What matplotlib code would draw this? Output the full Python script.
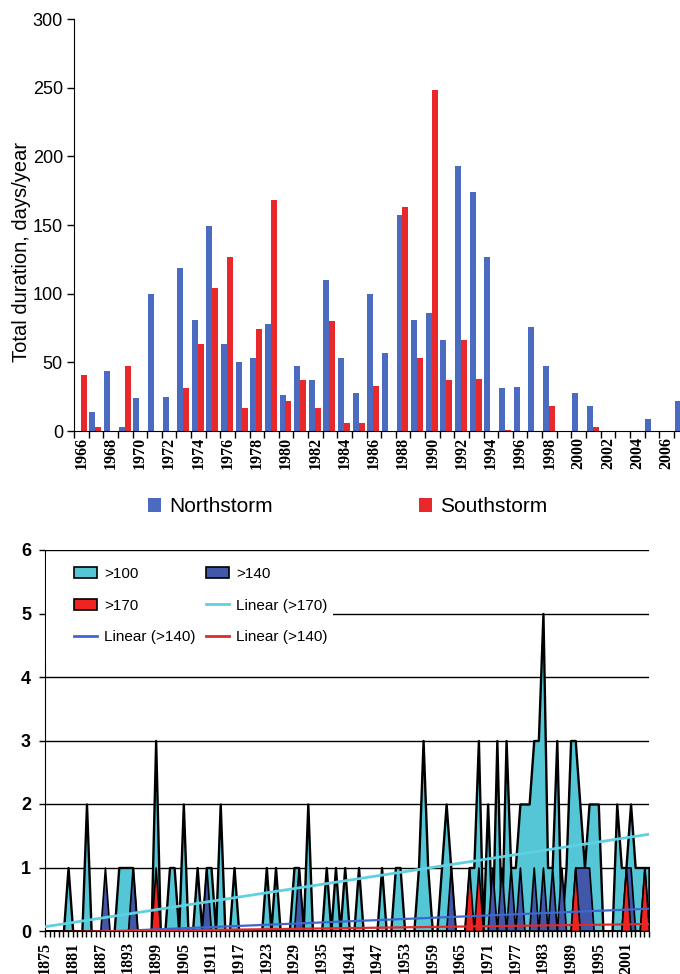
import numpy as np
import matplotlib
matplotlib.use("Agg")
import matplotlib.pyplot as plt
from matplotlib.patches import Patch, Rectangle
from matplotlib.lines import Line2D

# ---- top chart: storm duration per year ----
top_years = list(range(1966, 2008))
northstorm = [0, 14, 44, 3, 24, 100, 25, 119, 81, 149, 63, 50, 53, 78, 26, 47, 37, 110,
              53, 28, 100, 57, 157, 81, 86, 66, 193, 174, 127, 31, 32, 76, 47, 0, 28, 18,
              0, 0, 0, 9, 0, 22]
southstorm = [41, 3, 0, 47, 0, 0, 0, 31, 63, 104, 127, 17, 74, 168, 22, 37, 17, 80,
              6, 6, 33, 0, 163, 53, 248, 37, 66, 38, 0, 1, 0, 0, 18, 0, 0, 3,
              0, 0, 0, 0, 0, 0]

# ---- bottom chart: number of storms per year by class ----
bot_years = np.arange(1875, 2007)
gt100 = {1880: 1, 1884: 2, 1891: 1, 1892: 1, 1893: 1, 1894: 1, 1899: 3, 1902: 1, 1903: 1,
         1905: 2, 1908: 1, 1910: 1, 1911: 1, 1913: 2, 1916: 1, 1923: 1, 1925: 1, 1929: 1,
         1930: 1, 1932: 2, 1936: 1, 1938: 1, 1940: 1, 1943: 1, 1948: 1, 1951: 1, 1952: 1,
         1956: 1, 1957: 3, 1958: 1, 1961: 1, 1962: 2, 1963: 1, 1967: 1, 1968: 1, 1969: 3,
         1971: 2, 1973: 3, 1975: 3, 1976: 1, 1977: 1, 1978: 2, 1979: 2, 1980: 2, 1981: 3,
         1982: 3, 1983: 5, 1984: 1, 1985: 1, 1986: 3, 1988: 1, 1989: 3, 1990: 3, 1991: 2,
         1992: 1, 1993: 2, 1994: 2, 1995: 2, 1999: 2, 2000: 1, 2001: 1, 2002: 2, 2003: 1,
         2004: 1, 2005: 1, 2006: 1}
gt140 = {1888: 1, 1894: 1, 1910: 1, 1930: 1, 1963: 1, 1972: 1, 1974: 1, 1976: 1, 1978: 1,
         1981: 1, 1983: 1, 1985: 1, 1987: 1, 1990: 1, 1991: 1, 1992: 1, 1993: 1, 2001: 1,
         2002: 1, 2005: 1}
gt170 = {1899: 1, 1967: 1, 1969: 1, 1990: 1, 2001: 1, 2005: 1}
bot_ticks = list(range(1875, 2006, 6))

s100 = np.array([gt100.get(y, 0) for y in bot_years], dtype=float)
s140 = np.array([gt140.get(y, 0) for y in bot_years], dtype=float)
s170 = np.array([gt170.get(y, 0) for y in bot_years], dtype=float)

sans = "Liberation Sans"
serif = "Liberation Serif"

fig = plt.figure(figsize=(6.8, 9.74), dpi=100)

# top chart
ax1 = fig.add_axes([74 / 680, 1 - 431 / 974, 614.4 / 680, 412 / 974])
x = np.arange(len(top_years))
ax1.bar(x - 0.245, northstorm, width=0.41, color="#4a6bbf")
ax1.bar(x + 0.16, southstorm, width=0.41, color="#e8282a")
ax1.set_xlim(-0.5, len(top_years) - 0.5)
ax1.set_ylim(0, 300)
ax1.set_yticks(range(0, 301, 50))
ax1.set_xticks(np.arange(-0.5, len(top_years), 1))
ax1.set_xticklabels([])
ax1.set_xticks(x[::2], minor=True)
ax1.set_xticklabels([str(y) for y in top_years[::2]], minor=True, rotation=90,
                    fontfamily=serif, fontweight="bold", fontsize=11.5)
ax1.tick_params(axis="x", which="major", length=5, width=1, direction="out")
ax1.tick_params(axis="x", which="minor", length=0, pad=4)
ax1.tick_params(axis="y", length=5, width=1, pad=3)
for lab in ax1.get_yticklabels():
    lab.set_fontfamily(sans)
    lab.set_fontsize(13)
ax1.spines["top"].set_visible(False)
ax1.spines["right"].set_visible(False)
ax1.set_ylabel("Total duration, days/year", fontfamily=sans, fontsize=14.5)
ax1.yaxis.set_label_coords(-0.07, 0.435)

top_handles = [Patch(facecolor="#4a6bbf"), Patch(facecolor="#e8282a")]
fig.legend(top_handles, ["Northstorm", "Southstorm"], ncol=2, loc="center",
           bbox_to_anchor=(0.511, 1 - 507 / 974), frameon=False,
           prop={"family": sans, "size": 15}, handlelength=0.62, handleheight=0.62,
           handletextpad=0.4, columnspacing=7.0)

# bottom chart
ax2 = fig.add_axes([45 / 680, 1 - 931 / 974, 604 / 680, 381 / 974])
for lvl in range(1, 7):
    ax2.axhline(lvl, color="black", lw=1, zorder=1)

c100, c140, c170 = "#55c6d6", "#4357a8", "#f02222"
ax2.fill_between(bot_years, 0, s100, facecolor=c100, edgecolor="black", lw=1.7, zorder=2)
ax2.fill_between(bot_years, 0, s140, facecolor=c140, edgecolor="black", lw=1.2, zorder=3)
ax2.fill_between(bot_years, 0, s170, facecolor=c170, edgecolor="black", lw=1.2, zorder=4)

for s, col, lw in [(s100, "#5fd0e2", 2.0), (s140, "#3c68d0", 1.6), (s170, "#e02a2a", 1.6)]:
    k, b = np.polyfit(bot_years, s, 1)
    ax2.plot(bot_years, k * bot_years + b, color=col, lw=lw, zorder=5)

# white box behind the legend hides the grid there
ax2.add_patch(Rectangle((1875.3, 4.25), 62.2, 1.68, facecolor="white", edgecolor="none", zorder=6))

handles = [Patch(facecolor=c100, edgecolor="black", lw=1.2),
           Patch(facecolor=c170, edgecolor="black", lw=1.2),
           Line2D([], [], color="#3c68d0", lw=2),
           Patch(facecolor=c140, edgecolor="black", lw=1.2),
           Line2D([], [], color="#5fd0e2", lw=2),
           Line2D([], [], color="#e02a2a", lw=2)]
labels = [">100", ">170", "Linear (>140)", ">140", "Linear (>170)", "Linear (>140)"]
leg = ax2.legend(handles, labels, ncol=2, loc="upper left", bbox_to_anchor=(0.036, 0.975),
                 frameon=False, borderpad=0, prop={"family": sans, "size": 11},
                 handlelength=1.45, handleheight=0.7, handletextpad=0.5,
                 labelspacing=1.15, columnspacing=0.7)
leg.set_zorder(7)

ax2.set_xlim(1875, 2006)
ax2.set_ylim(0, 6)
ax2.set_yticks(range(0, 7))
ax2.set_xticks(bot_ticks)
ax2.set_xticklabels([str(y) for y in bot_ticks], rotation=90,
                    fontfamily=serif, fontweight="bold", fontsize=11.5)
ax2.set_xticks(bot_years, minor=True)
ax2.tick_params(axis="x", which="both", length=4, width=1, direction="out")
ax2.tick_params(axis="y", length=4, width=1, pad=6)
for lab in ax2.get_yticklabels():
    lab.set_fontfamily(sans)
    lab.set_fontweight("bold")
    lab.set_fontsize(13)
ax2.spines["top"].set_visible(False)
ax2.spines["right"].set_visible(False)

fig.savefig("out.png", dpi=100)
